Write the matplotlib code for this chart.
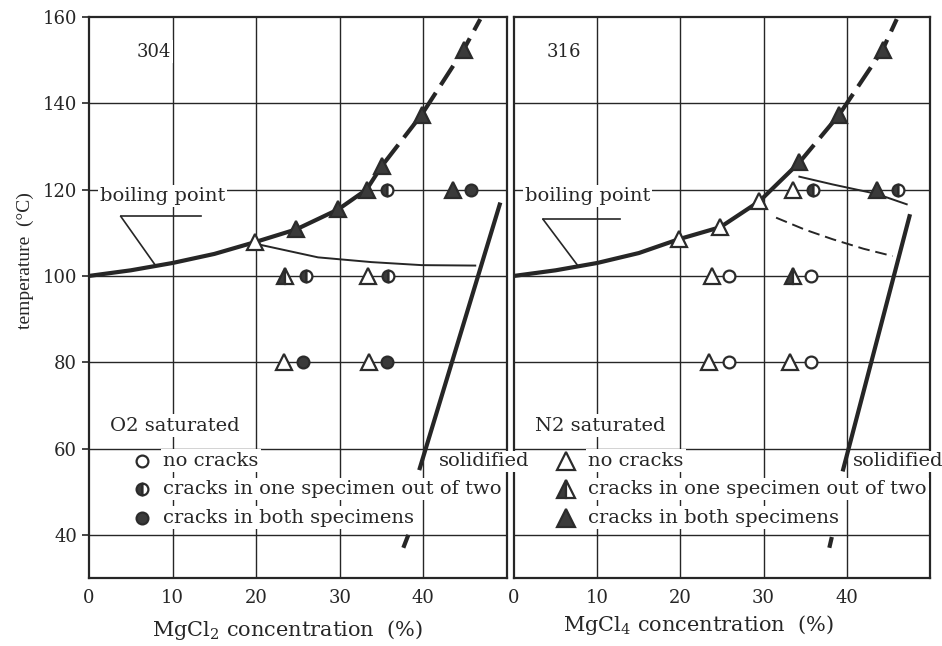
import matplotlib
matplotlib.use("Agg")
import matplotlib.pyplot as plt

plt.rcParams["font.family"] = ["DejaVu Serif"]
plt.rcParams["mathtext.fontset"] = "custom"
plt.rcParams["mathtext.rm"] = "DejaVu Serif"

# ---------------------------------------------------------------------------
# data  (x = MgCl2 %, y = temperature degC)
# ---------------------------------------------------------------------------
x_ticks = [0, 10, 20, 30, 40]
y_ticks = [40, 60, 80, 100, 120, 140, 160]

# lower (solid) part of the boiling point curve
bp_low_x = [0, 5, 10, 15, 19.8]
bp_low_y_304 = [100, 101.3, 103.0, 105.1, 107.8]
bp_low_y_316 = [100, 101.3, 103.0, 105.3, 108.5]

# upper part of the boiling point curve, solid then dashed
bp_mid_x_304 = [19.8, 24.8, 29.8, 33.2]
bp_mid_y_304 = [107.8, 110.8, 115.4, 120.0]
bp_top_x_304 = [33.2, 35.0, 39.8, 44.8, 46.8]
bp_top_y_304 = [120.0, 125.4, 137.4, 152.4, 159.5]

bp_mid_x_316 = [19.8, 24.8, 29.5, 34.3]
bp_mid_y_316 = [108.5, 111.3, 117.3, 126.3]
bp_top_x_316 = [34.3, 39.1, 44.3, 46.0]
bp_top_y_316 = [126.3, 137.4, 152.4, 159.5]

# test points on the boiling curve (triangles)
curve_tri_x_304 = [19.8, 24.8, 29.8, 35.0, 39.8, 44.8]
curve_tri_y_304 = [107.8, 110.8, 115.4, 125.4, 137.4, 152.4]
curve_tri_k_304 = ["open", "full", "full", "full", "full", "full"]

curve_tri_x_316 = [19.8, 24.8, 29.5, 34.3, 39.1, 44.3]
curve_tri_y_316 = [108.5, 111.3, 117.3, 126.3, 137.4, 152.4]
curve_tri_k_316 = ["open", "open", "open", "full", "full", "full"]

# test points on fixed temperature rows
row_tri_x_304 = [33.3, 43.6, 23.5, 33.4, 23.3, 33.5]
row_tri_y_304 = [120, 120, 100, 100, 80, 80]
row_tri_k_304 = ["full", "full", "half", "open", "open", "open"]
row_cir_x_304 = [35.6, 45.7, 25.9, 35.8, 25.6, 35.7]
row_cir_y_304 = [120, 120, 100, 100, 80, 80]
row_cir_k_304 = ["half", "full", "half", "half", "full", "full"]

row_tri_x_316 = [33.5, 43.6, 23.8, 33.5, 23.4, 33.2]
row_tri_y_316 = [120, 120, 100, 100, 80, 80]
row_tri_k_316 = ["open", "full", "open", "half", "open", "open"]
row_cir_x_316 = [35.9, 46.1, 25.8, 35.7, 25.8, 35.7]
row_cir_y_316 = [120, 120, 100, 100, 80, 80]
row_cir_k_316 = ["half", "half", "open", "open", "open", "open"]

# thin lines branching off the boiling curve
thin_x_304 = [19.8, 27.4, 33.8, 39.8, 46.2]
thin_y_304 = [107.5, 104.3, 103.2, 102.5, 102.4]
thin_x_316 = [34.3, 38.3, 43.6, 47.2]
thin_y_316 = [123.0, 121.2, 119.0, 116.6]
dash_x_316 = [31.5, 35.0, 38.3, 42.0, 45.5]
dash_y_316 = [113.5, 110.7, 108.5, 106.3, 104.6]

# solidification line (two pieces, broken by the legend)
sol_x_304 = [[37.6, 38.2], [39.5, 49.2]]
sol_y_304 = [[37.0, 40.0], [55.0, 117.0]]
sol_x_316 = [[37.9, 38.2], [39.5, 47.6]]
sol_y_316 = [[37.0, 39.5], [54.7, 114.3]]

# "boiling point" leader lines: corner, end of horizontal, end of diagonal
lead_304 = [(3.8, 113.8), (13.4, 113.8), (8.0, 102.3)]
lead_316 = [(3.5, 113.1), (12.8, 113.1), (7.7, 102.3)]

legend_labels = ["no cracks", "cracks in one specimen out of two",
                 "cracks in both specimens"]
legend_y = [57.2, 50.6, 44.0]


def marker_style(kind, shape, size):
    st = dict(marker=shape, markersize=size, markeredgecolor="#2b2b2b",
              markeredgewidth=1.6, linestyle="none", zorder=6)
    if kind == "open":
        st.update(markerfacecolor="white")
    elif kind == "full":
        st.update(markerfacecolor="#3a3a3a")
    else:
        st.update(markerfacecolor="#3a3a3a", fillstyle="left",
                  markerfacecoloralt="white")
    return st


def draw_points(ax, xs, ys, kinds, shape, size):
    for x, y, k in zip(xs, ys, kinds):
        ax.plot([x], [y], **marker_style(k, shape, size))


fig = plt.figure(figsize=(9.42, 6.46), dpi=100)
ax1 = fig.add_axes([89 / 942, 1 - 578 / 646, 418 / 942, 561 / 646])
ax2 = fig.add_axes([514 / 942, 1 - 578 / 646, 416 / 942, 561 / 646])
ax1.set_zorder(3)  # so "solidified" can run over the right panel

lc = "#262626"
panels = [
    (ax1, "304", "O2 saturated", "o", 8.5, bp_low_y_304,
     bp_mid_x_304, bp_mid_y_304, bp_top_x_304, bp_top_y_304,
     curve_tri_x_304, curve_tri_y_304, curve_tri_k_304,
     row_tri_x_304, row_tri_y_304, row_tri_k_304,
     row_cir_x_304, row_cir_y_304, row_cir_k_304,
     sol_x_304, sol_y_304, lead_304, 7.7, 41.9),
    (ax2, "316", "N2 saturated", "^", 13, bp_low_y_316,
     bp_mid_x_316, bp_mid_y_316, bp_top_x_316, bp_top_y_316,
     curve_tri_x_316, curve_tri_y_316, curve_tri_k_316,
     row_tri_x_316, row_tri_y_316, row_tri_k_316,
     row_cir_x_316, row_cir_y_316, row_cir_k_316,
     sol_x_316, sol_y_316, lead_316, 6.0, 40.7),
]

for (ax, grade, gas, leg_marker, leg_size, bp_low_y, mid_x, mid_y, top_x,
     top_y, ctx, cty, ctk, rtx, rty, rtk, rcx, rcy, rck, solx, soly, lead,
     grade_x, sol_lab_x) in panels:
    ax.set_xlim(0, 50)
    ax.set_ylim(30, 160)
    for s in ax.spines.values():
        s.set_linewidth(1.6)
        s.set_color(lc)
    for gx in x_ticks[1:]:
        ax.axvline(gx, color=lc, lw=1.0, zorder=1)
    for gy in y_ticks[:-1]:
        ax.axhline(gy, color=lc, lw=1.0, zorder=1)

    ax.set_xticks(x_ticks)
    ax.set_yticks(y_ticks)
    ax.tick_params(axis="x", length=0, pad=8, labelsize=13, colors=lc)
    ax.tick_params(axis="y", length=5, width=1.2, direction="out",
                   labelsize=13, colors=lc)

    # boiling point curve
    ax.plot(bp_low_x, bp_low_y, color=lc, lw=3.0, solid_capstyle="butt",
            zorder=4)
    ax.plot(mid_x, mid_y, color=lc, lw=3.0, zorder=4)
    ax.plot(top_x, top_y, color=lc, lw=3.0, dashes=(5.5, 2.2), zorder=4)

    # solidification line
    for sx, sy in zip(solx, soly):
        ax.plot(sx, sy, color=lc, lw=3.0, zorder=4, solid_capstyle="butt")

    # leader lines of the "boiling point" label
    (cx, cy), (hx, hy), (dx, dy) = lead
    ax.plot([cx, hx], [cy, hy], color=lc, lw=1.2, zorder=3)
    ax.plot([cx, dx], [cy, dy], color=lc, lw=1.2, zorder=3)
    ax.text(1.3, 118.6, "boiling point", fontsize=14, color=lc, va="center",
            ha="left", zorder=5,
            bbox=dict(facecolor="white", edgecolor="none", pad=1.5))

    ax.text(grade_x, 152.0, grade, fontsize=13, color=lc, ha="center",
            va="center", zorder=5,
            bbox=dict(facecolor="white", edgecolor="none", pad=2))

    # markers
    draw_points(ax, ctx, cty, ctk, "^", 12)
    draw_points(ax, rtx, rty, rtk, "^", 12)
    draw_points(ax, rcx, rcy, rck, "o", 8.5)

    # legend
    ax.text(2.5, 65.3, gas, fontsize=14, color=lc, va="center", ha="left",
            zorder=5, bbox=dict(facecolor="white", edgecolor="none", pad=2))
    for lab, ly, k in zip(legend_labels, legend_y, ["open", "half", "full"]):
        ax.plot([6.3], [ly], **marker_style(k, leg_marker, leg_size))
        ax.text(8.9, ly, lab, fontsize=14, color=lc, va="center", ha="left",
                zorder=5, clip_on=False,
                bbox=dict(facecolor="white", edgecolor="none", pad=1.5))
    ax.text(sol_lab_x, 57.0, "solidified", fontsize=14, color=lc,
            va="center", ha="left", zorder=5, clip_on=False,
            bbox=dict(facecolor="white", edgecolor="none", pad=1))

ax1.plot(thin_x_304, thin_y_304, color=lc, lw=1.4, zorder=3)
ax2.plot(thin_x_316, thin_y_316, color=lc, lw=1.4, zorder=3)
ax2.plot(dash_x_316, dash_y_316, color=lc, lw=1.4, dashes=(6, 3), zorder=3)
ax2.tick_params(axis="y", left=False, labelleft=False)

fig.text(287 / 942, 1 - 630 / 646, r"MgCl$_2$ concentration  (%)",
         fontsize=15, color=lc, ha="center", va="center")
fig.text(698 / 942, 1 - 625 / 646, r"MgCl$_4$ concentration  (%)",
         fontsize=15, color=lc, ha="center", va="center")
fig.text(25 / 942, 1 - 261 / 646, "temperature  (°C)", fontsize=14,
         color=lc, ha="center", va="center", rotation=90,
         family="Liberation Serif")

fig.savefig("out.png", dpi=100)
